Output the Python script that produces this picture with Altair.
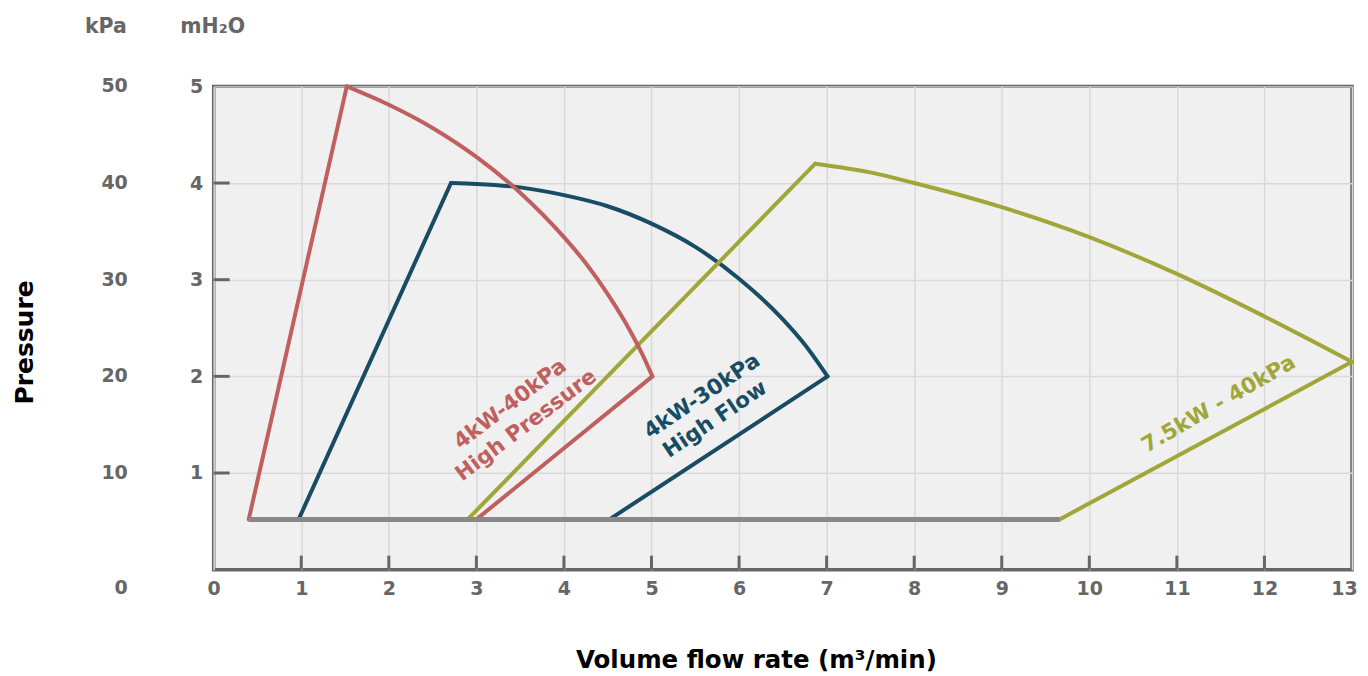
import altair as alt
import pandas as pd

FONT = "DejaVu Sans"
GRAY = "#666666"

# ---- data ----
X_LABELS = list(range(0, 14))
X_INNER = list(range(1, 13))
Y_MH2O = [1, 2, 3, 4, 5]
Y_INNER = [1, 2, 3, 4]
KPA = [0, 10, 20, 30, 40, 50]

BASE_X = [0.40, 9.66]
BASE_Y = [0.52, 0.52]

RED_RISE_X = [0.40, 1.52]
RED_RISE_Y = [0.52, 5.0]
RED_ARC_X = [1.52, 2.0, 2.5, 3.0, 3.5, 4.0, 4.25, 4.5, 4.75, 4.9, 5.01]
RED_ARC_Y = [5.0, 4.81, 4.57, 4.27, 3.90, 3.44, 3.17, 2.85, 2.48, 2.22, 2.0]
RED_FALL_X = [5.01, 3.0]
RED_FALL_Y = [2.0, 0.52]

BLUE_RISE_X = [0.97, 2.71]
BLUE_RISE_Y = [0.52, 4.0]
BLUE_ARC_X = [2.71, 3.0, 3.5, 4.0, 4.5, 5.0, 5.5, 6.0, 6.5, 6.75, 7.01]
BLUE_ARC_Y = [4.0, 3.99, 3.955, 3.875, 3.76, 3.58, 3.34, 3.01, 2.59, 2.33, 2.0]
BLUE_FALL_X = [7.01, 4.52]
BLUE_FALL_Y = [2.0, 0.52]

OLIVE_RISE_X = [2.90, 6.87]
OLIVE_RISE_Y = [0.52, 4.20]
OLIVE_ARC_X = [6.87, 7.5, 8.0, 9.0, 10.0, 11.0, 12.0, 13.0]
OLIVE_ARC_Y = [4.20, 4.11, 4.0, 3.75, 3.44, 3.06, 2.62, 2.15]
OLIVE_FALL_X = [13.0, 9.66]
OLIVE_FALL_Y = [2.15, 0.52]

LABEL_TEXT = ["4kW-40kPa", "High Pressure", "4kW-30kPa", "High Flow", "7.5kW - 40kPa"]
LABEL_X = [3.39, 3.57, 5.58, 5.73, 11.48]
LABEL_Y = [1.71, 1.49, 1.79, 1.55, 1.71]
LABEL_ANGLE = [323, 323, 326, 326, 330]
LABEL_SERIES = ["red", "red", "blue", "blue", "olive"]

COLORS = {"red": "#c0605e", "blue": "#184b64", "olive": "#a0a638"}

W, H = 1140, 484

xs = alt.Scale(domain=[0, 13], nice=False, zero=False)
ys = alt.Scale(domain=[0, 5], nice=False, zero=False)

axis_df = pd.DataFrame({"x": [0, 13], "y": [0, 5]})
axes = alt.Chart(axis_df).mark_point(opacity=0).encode(
    x=alt.X("x:Q", scale=xs, axis=alt.Axis(
        values=X_LABELS, format="d", grid=True, gridColor="#d9d9d9", gridWidth=1.5,
        domain=False, ticks=False, labelPadding=10, labelFont=FONT, labelFlush=False,
        labelOffset={"condition": {"test": "datum.value == 13", "value": -8}, "value": 0},
        labelFontSize=19, labelFontWeight="bold", labelColor=GRAY,
        title="Volume flow rate (m³/min)", titleFont=FONT, titleFontSize=24.5,
        titleFontWeight="bold", titleColor="#000000", titleX=543, titleY=91,
        titleBaseline="middle", titleAlign="center", titleAnchor="start")),
    y=alt.Y("y:Q", scale=ys, axis=alt.Axis(
        values=Y_MH2O, format="d", grid=True, gridColor="#d9d9d9", gridWidth=1.5,
        domain=False, ticks=False, labelPadding=11, labelFont=FONT, labelFlush=False,
        labelFontSize=19, labelFontWeight="bold", labelColor=GRAY,
        title="Pressure", titleFont=FONT, titleFontSize=25,
        titleFontWeight="bold", titleColor="#000000", titleAngle=270,
        titleX=-189, titleY=256, titleBaseline="middle", titleAlign="center",
        titleAnchor="start")),
)

xt = alt.Chart(pd.DataFrame({"x": X_INNER})).mark_rule(
    color=GRAY, strokeWidth=3).encode(
    x=alt.X("x:Q", scale=xs), y=alt.value(H), y2=alt.value(H - 14))
yt = alt.Chart(pd.DataFrame({"y": Y_INNER})).mark_rule(
    color=GRAY, strokeWidth=3).encode(
    y=alt.Y("y:Q", scale=ys), x=alt.value(0), x2=alt.value(16))

kpa_df = pd.DataFrame({"kpa": KPA})
kpa_main = alt.Chart(kpa_df).transform_filter("datum.kpa > 0").transform_calculate(
    m="datum.kpa / 10").mark_text(
    font=FONT, fontSize=19, fontWeight="bold", color=GRAY, align="right",
    baseline="middle").encode(
    y=alt.Y("m:Q", scale=ys), x=alt.value(-86), text=alt.Text("kpa:Q", format="d"))
kpa_zero = alt.Chart(kpa_df).transform_filter("datum.kpa == 0").transform_calculate(
    m="datum.kpa / 10").mark_text(
    font=FONT, fontSize=19, fontWeight="bold", color=GRAY, align="right",
    baseline="middle", dy=18).encode(
    y=alt.Y("m:Q", scale=ys), x=alt.value(-86), text=alt.Text("kpa:Q", format="d"))

head_df = pd.DataFrame({"t": ["kPa", "mH₂O"], "px": [-108, -1]})
heads = alt.Chart(head_df).mark_text(
    font=FONT, fontSize=20.5, fontWeight="bold", color=GRAY, align="center",
    baseline="middle").encode(
    x=alt.X("px:Q", scale=None), y=alt.value(-59), text="t:N")


def series_layers(name, rx, ry, ax, ay, fx, fy):
    col = COLORS[name]
    straight = pd.DataFrame({
        "x": rx + fx, "y": ry + fy,
        "seg": ["rise"] * len(rx) + ["fall"] * len(fx)})
    arc = pd.DataFrame({"x": ax, "y": ay})
    l1 = alt.Chart(straight).mark_line(color=col, strokeWidth=4,
                                       strokeCap="round", strokeJoin="round").encode(
        x=alt.X("x:Q", scale=xs), y=alt.Y("y:Q", scale=ys), detail="seg:N")
    l2 = alt.Chart(arc).mark_line(color=col, strokeWidth=4, interpolate="monotone",
                                  strokeCap="round").encode(
        x=alt.X("x:Q", scale=xs), y=alt.Y("y:Q", scale=ys))
    return [l1, l2]


lines = []
lines += series_layers("blue", BLUE_RISE_X, BLUE_RISE_Y, BLUE_ARC_X, BLUE_ARC_Y, BLUE_FALL_X, BLUE_FALL_Y)
lines += series_layers("olive", OLIVE_RISE_X, OLIVE_RISE_Y, OLIVE_ARC_X, OLIVE_ARC_Y, OLIVE_FALL_X, OLIVE_FALL_Y)
lines += series_layers("red", RED_RISE_X, RED_RISE_Y, RED_ARC_X, RED_ARC_Y, RED_FALL_X, RED_FALL_Y)

base = alt.Chart(pd.DataFrame({"x": BASE_X, "y": BASE_Y})).mark_line(
    color="#888888", strokeWidth=5).encode(
    x=alt.X("x:Q", scale=xs), y=alt.Y("y:Q", scale=ys))

lab_df = pd.DataFrame({"t": LABEL_TEXT, "x": LABEL_X, "y": LABEL_Y,
                       "a": LABEL_ANGLE, "s": LABEL_SERIES})
labels = alt.Chart(lab_df).mark_text(
    font=FONT, fontSize=21.5, fontWeight="bold", align="center",
    baseline="middle").encode(
    x=alt.X("x:Q", scale=xs), y=alt.Y("y:Q", scale=ys), text="t:N",
    angle=alt.Angle("a:Q", scale=None),
    color=alt.Color("s:N", scale=alt.Scale(domain=list(COLORS.keys()),
                                           range=list(COLORS.values())), legend=None))

chart = alt.layer(axes, *lines, base, xt, yt, labels, kpa_main, kpa_zero, heads).properties(
    width=W, height=H,
    autosize=alt.AutoSizeParams(type="none"),
    padding={"left": 206, "top": 78, "right": 8, "bottom": 104},
    background="#ffffff",
).configure_view(fill="#f0f0f0", stroke=GRAY, strokeWidth=3.5)

chart.save("out.html", embed_options={"renderer": "svg", "actions": False})
